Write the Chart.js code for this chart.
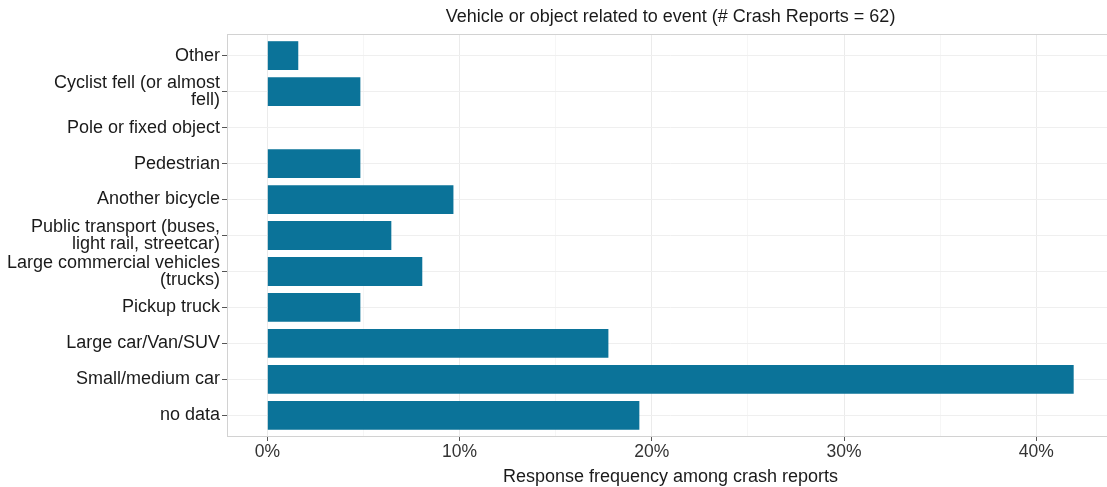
<!DOCTYPE html>
<html lang="en">
<head>
    <meta charset="UTF-8">
    <title>Vehicle or object related to event</title>
    <script src="https://cdn.jsdelivr.net/npm/chart.js"></script>
    <style>
        html, body { margin: 0; padding: 0; overflow: hidden; background: #fff; }
        canvas { display: block; }
    </style>
</head>
<body>

<canvas id="eventChart" width="1125" height="487"></canvas>

<script>
    // Categories, top to bottom, with their wrapped axis labels
    const categories = [
        'Other',
        'Cyclist fell (or almost fell)',
        'Pole or fixed object',
        'Pedestrian',
        'Another bicycle',
        'Public transport (buses, light rail, streetcar)',
        'Large commercial vehicles (trucks)',
        'Pickup truck',
        'Large car/Van/SUV',
        'Small/medium car',
        'no data'
    ];
    const categoryLabels = [
        ['Other'],
        ['Cyclist fell (or almost', 'fell)'],
        ['Pole or fixed object'],
        ['Pedestrian'],
        ['Another bicycle'],
        ['Public transport (buses,', 'light rail, streetcar)'],
        ['Large commercial vehicles', '(trucks)'],
        ['Pickup truck'],
        ['Large car/Van/SUV'],
        ['Small/medium car'],
        ['no data']
    ];
    // Share of the 62 crash reports, in percent
    const shares = [1.61, 4.84, 0, 4.84, 9.68, 6.45, 8.06, 4.84, 17.74, 41.94, 19.35];
    const xTicks = [0, 5, 10, 15, 20, 25, 30, 35, 40];
    const xMax = Math.max(...shares);
    const xPad = xMax * 0.05;

    const FONT = 'Liberation Sans, Arial, sans-serif';

    const frame = {
        id: 'frame',
        afterDatasetsDraw(chart) {
            const a = chart.chartArea;
            const ctx = chart.ctx;
            ctx.save();
            ctx.strokeStyle = '#d2d2d2';
            ctx.lineWidth = 1;
            ctx.strokeRect(a.left + 0.5, a.top + 0.5, a.right - a.left - 1, a.bottom - a.top - 1);
            ctx.restore();
        }
    };

    new Chart(document.getElementById('eventChart').getContext('2d'), {
        type: 'bar',
        data: {
            datasets: [{
                label: 'Response frequency',
                data: categories.map((c, i) => ({ x: shares[i], y: i })),
                backgroundColor: '#0b7399',
                borderWidth: 0,
                barPercentage: 0.8,
                categoryPercentage: 1.0
            }]
        },
        options: {
            indexAxis: 'y',
            responsive: false,
            animation: false,
            devicePixelRatio: 1,
            layout: { padding: { left: 0, right: 11, top: 0, bottom: 0 } },
            plugins: {
                legend: { display: false },
                tooltip: { enabled: false },
                title: {
                    display: true,
                    fullSize: false,
                    text: 'Vehicle or object related to event (# Crash Reports = 62)',
                    color: '#1a1a1a',
                    font: { family: FONT, size: 18, weight: 'normal', lineHeight: 1.2 },
                    padding: { top: 6, bottom: 6.4 }
                }
            },
            scales: {
                x: {
                    type: 'linear',
                    min: -xPad,
                    max: xMax + xPad,
                    afterBuildTicks: axis => { axis.ticks = xTicks.map(v => ({ value: v })); },
                    afterFit: scale => { scale.height = 50; },
                    border: { display: false },
                    grid: {
                        color: c => (c.tick && c.tick.value % 10 === 0) ? '#ebebeb' : '#f6f6f6',
                        tickColor: c => (c.tick && c.tick.value % 10 === 0) ? '#555' : 'rgba(0,0,0,0)',
                        tickLength: 4
                    },
                    ticks: {
                        autoSkip: false,
                        maxRotation: 0,
                        padding: 2,
                        color: '#333',
                        font: { family: FONT, size: 17.5, lineHeight: 1.1 },
                        callback: v => (v % 10 === 0 ? v + '%' : '')
                    },
                    title: {
                        display: true,
                        text: 'Response frequency among crash reports',
                        color: '#1a1a1a',
                        font: { family: FONT, size: 18, lineHeight: 1.1 },
                        padding: { top: 3, bottom: 0 }
                    }
                },
                y: {
                    type: 'linear',
                    reverse: true,
                    offset: false,
                    min: -0.6,
                    max: categories.length - 0.4,
                    afterBuildTicks: axis => { axis.ticks = categories.map((c, i) => ({ value: i })); },
                    afterFit: scale => { scale.width = 227; },
                    border: { display: false },
                    grid: {
                        offset: false,
                        color: '#efefef',
                        tickColor: '#555',
                        tickLength: 5
                    },
                    ticks: {
                        autoSkip: false,
                        padding: 2,
                        color: '#1a1a1a',
                        font: { family: FONT, size: 18, lineHeight: 0.92 },
                        callback: v => categoryLabels[v]
                    }
                }
            }
        },
        plugins: [frame]
    });
</script>

</body>
</html>
